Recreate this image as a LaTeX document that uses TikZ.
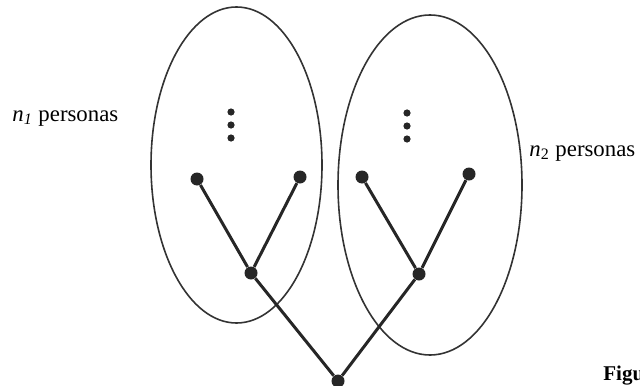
\documentclass[tikz,border=0pt]{standalone}
\usepackage{fontspec}
\setmainfont{Liberation Serif}
\usetikzlibrary{positioning}
\begin{document}
\begin{tikzpicture}[x=0.5pt, y=-0.5pt,
  vertex/.style={circle, fill=black!85, inner sep=0pt, minimum size=6.5pt},
  vdot/.style={circle, fill=black!85, inner sep=0pt, minimum size=3.6pt},
  edge/.style={line width=1.5pt, black!85},
  group/.style={line width=0.8pt, black!80},
  lbl/.style={font=\fontsize{11.4}{13}\selectfont, anchor=base west, inner sep=0pt}
]
  \useasboundingbox (0,0) rectangle (640,385);
  % the two groups
  \draw[group] (236.5,165) ellipse [x radius=42.75pt, y radius=79pt];
  \draw[group] (430,185) ellipse [x radius=46pt, y radius=85pt];
  \node[lbl] (n1) at (12,121) {\textit{n}\textsubscript{\textit{1}} personas};
  \node[lbl] (n2) at (529,156) {\textit{n}\textsubscript{2} personas};
  \node[lbl, font=\fontsize{10.5}{12}\selectfont\bfseries] (fig) at (603,380) {Figu};
  % vertical dots
  \foreach \y [count=\i] in {112,125,138} {
    \node[vdot] (l\i) at (231,\y) {};
    \node[vdot] (r\i) at (407,\y+1) {};
  }
  % tree
  \node[vertex] (a1) at (197,179) {};
  \node[vertex] (a2) at (300,177) {};
  \node[vertex] (a)  at (251,273) {};
  \node[vertex] (b1) at (362,177) {};
  \node[vertex] (b2) at (469,174) {};
  \node[vertex] (b)  at (419,274) {};
  \node[vertex] (root) at (338,381) {};
  \draw[edge] (a1) -- (a) -- (a2);
  \draw[edge] (b1) -- (b) -- (b2);
  \draw[edge] (a) -- (root) -- (b);
\end{tikzpicture}
\end{document}
